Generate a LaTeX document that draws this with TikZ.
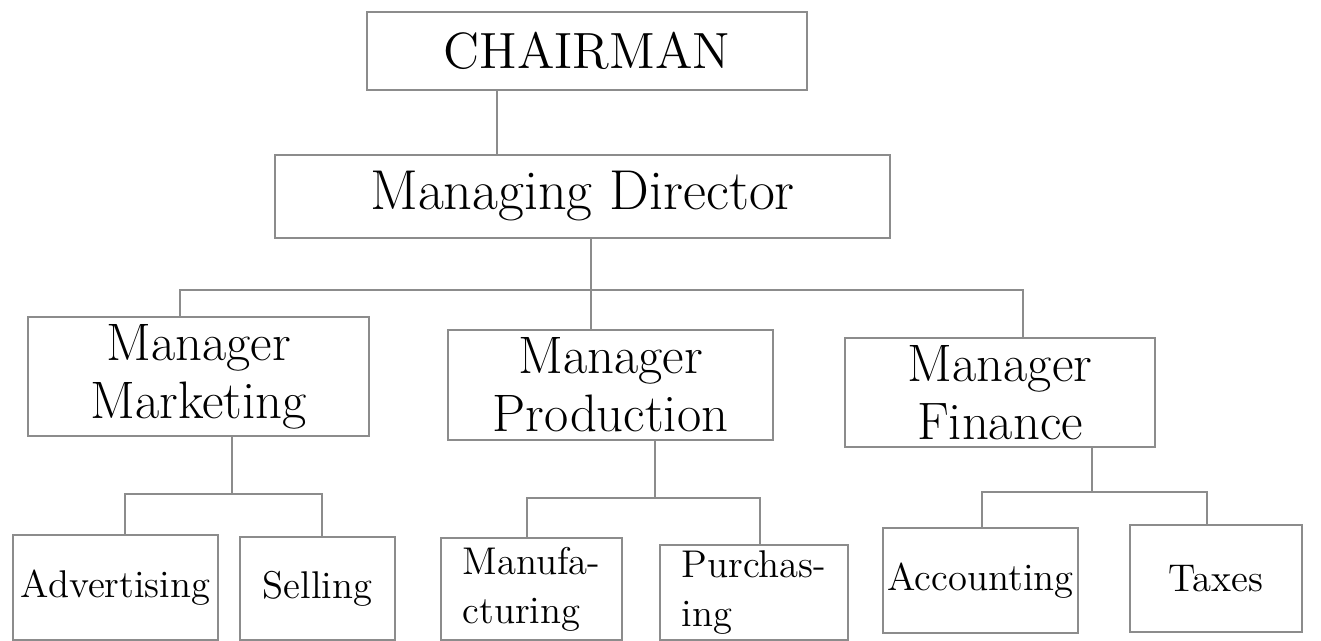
\documentclass[tikz,border=0pt]{standalone}
\usetikzlibrary{positioning}

\begin{document}
\begin{tikzpicture}[
        box_node/.style={rectangle, draw=black!45, line width=0.6pt, inner sep=1pt, align=center},
        head_font/.style={font=\fontsize{14.5}{17}\selectfont},
        mgr_font/.style={font=\fontsize{15}{16.5}\selectfont},
        leaf_font/.style={font=\fontsize{11}{14}\selectfont},
        link/.style={draw=black!45, line width=0.6pt}
        ]
            \useasboundingbox (0,0) rectangle (13.21,-6.41);

            % top
            \node[box_node, head_font, minimum width=4.40cm, minimum height=0.78cm] (box_chair) at (5.87,-0.51)  {CHAIRMAN};
            \node[box_node, font=\fontsize{16}{18}\selectfont, minimum width=6.15cm, minimum height=0.83cm] (box_md) at (5.825,-1.965) {Managing Director};
            % managers
            \node[box_node, mgr_font, minimum width=3.41cm, minimum height=1.19cm] (box_mkt)  at (1.985,-3.765) {Manager\\Marketing};
            \node[box_node, mgr_font, minimum width=3.25cm, minimum height=1.10cm] (box_prod) at (6.105,-3.85)  {Manager\\Production};
            \node[box_node, mgr_font, minimum width=3.10cm, minimum height=1.09cm] (box_fin)  at (10.00,-3.925) {Manager\\Finance};
            % departments
            \node[box_node, leaf_font, minimum width=2.05cm, minimum height=1.05cm] (box_adv)   at (1.155,-5.875) {Advertising};
            \node[box_node, leaf_font, minimum width=1.55cm, minimum height=1.03cm] (box_sell)  at (3.175,-5.885) {Selling};
            \node[box_node, leaf_font, minimum width=1.81cm, minimum height=1.02cm, align=left] (box_manu)  at (5.315,-5.89)  {Manufa-\\cturing};
            \node[box_node, leaf_font, minimum width=1.88cm, minimum height=0.95cm, align=left] (box_purch) at (7.54,-5.925)  {Purchas-\\ing};
            \node[box_node, leaf_font, minimum width=1.95cm, minimum height=1.05cm] (box_acc)   at (9.805,-5.805) {Accounting};
            \node[box_node, leaf_font, minimum width=1.72cm, minimum height=1.07cm] (box_tax)   at (12.16,-5.785) {Taxes};

            % junctions
            \coordinate (j_chair)   at (4.97,0);
            \coordinate (bus_md)    at (5.91,-2.90);
            \coordinate (bus_left)  at (1.80,-2.90);
            \coordinate (bus_right) at (10.23,-2.90);
            \coordinate (bus_mkt)   at (2.32,-4.94);
            \coordinate (bus_adv)   at (1.25,-4.94);
            \coordinate (bus_sell)  at (3.22,-4.94);
            \coordinate (bus_prod)  at (6.55,-4.98);
            \coordinate (bus_manu)  at (5.27,-4.98);
            \coordinate (bus_purch) at (7.60,-4.98);
            \coordinate (bus_fin)   at (10.92,-4.92);
            \coordinate (bus_acc)   at (9.82,-4.92);
            \coordinate (bus_tax)   at (12.07,-4.92);

            % Lines
            \draw[link] (box_chair.south -| j_chair) -- (box_md.north -| j_chair);
            \draw[link] (box_md.south -| bus_md) -- (bus_md) -- (box_prod.north -| bus_md);
            \draw[link] (box_mkt.north -| bus_left) -- (bus_left) -- (bus_right) -- (box_fin.north -| bus_right);
            % marketing
            \draw[link] (box_mkt.south -| bus_mkt) -- (bus_mkt);
            \draw[link] (box_adv.north -| bus_adv) -- (bus_adv) -- (bus_sell) -- (box_sell.north -| bus_sell);
            % production
            \draw[link] (box_prod.south -| bus_prod) -- (bus_prod);
            \draw[link] (box_manu.north -| bus_manu) -- (bus_manu) -- (bus_purch) -- (box_purch.north -| bus_purch);
            % finance
            \draw[link] (box_fin.south -| bus_fin) -- (bus_fin);
            \draw[link] (box_acc.north -| bus_acc) -- (bus_acc) -- (bus_tax) -- (box_tax.north -| bus_tax);
        \end{tikzpicture}
\end{document}
